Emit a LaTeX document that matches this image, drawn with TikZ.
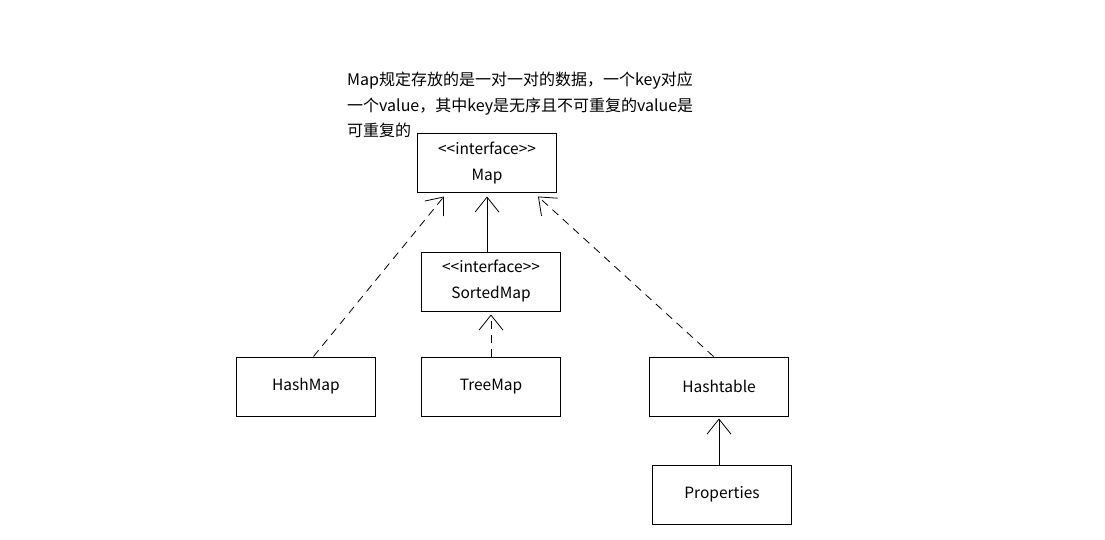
\documentclass[tikz,border=0pt]{standalone}
\usepackage{fontspec}
\setmainfont{Noto Sans CJK SC}
\usetikzlibrary{arrows.meta, positioning}

\begin{document}
\begin{tikzpicture}[x=1pt, y=1pt,
  cls/.style={draw, line width=1pt, minimum width=139pt, minimum height=59pt, inner sep=0pt, align=center, font=\fontsize{15.5}{26}\selectfont},
  realize/.style={line width=0.8pt, dash pattern=on 8pt off 6pt, -{Straight Barb[length=15pt, width=24pt, line width=0.8pt]}},
  inherit/.style={line width=0.8pt, -{Straight Barb[length=15pt, width=24pt, line width=0.8pt]}}]
\useasboundingbox (0,0) rectangle (1105,-540);
\node[anchor=north west, inner sep=0pt, align=left, font=\fontsize{16}{25.5}\selectfont] (note) at (347,-72) {Map规定存放的是一对一对的数据，一个key对应\\一个value，其中key是无序且不可重复的value是\\可重复的};
\node[cls] (map) at (487,-163.5) {<{}<interface>{}>\\Map};
\node[cls, below=58pt of map, xshift=4pt] (sortedmap) {<{}<interface>{}>\\SortedMap};
\node[cls, below left=163pt and 41pt of map] (hashmap) {HashMap};
\node[cls, below=45pt of sortedmap] (treemap) {TreeMap};
\node[cls, below right=163pt and 92pt of map] (hashtable) {Hashtable};
\node[cls, below=48pt of hashtable, xshift=3pt] (properties) {Properties};
\draw[inherit] (map.south |- sortedmap.north) -- ([yshift=-3pt]map.south);
\draw[realize] ([xshift=7.5pt]hashmap.north) -- ([xshift=-43pt, yshift=-3pt]map.south);
\draw[realize] ([xshift=-5.5pt]hashtable.north) -- ([xshift=51pt, yshift=-3pt]map.south);
\draw[realize] (treemap.north) -- ([yshift=-3pt]sortedmap.south);
\draw[inherit] (hashtable.south |- properties.north) -- ([yshift=-2pt]hashtable.south);
\end{tikzpicture}
\end{document}
